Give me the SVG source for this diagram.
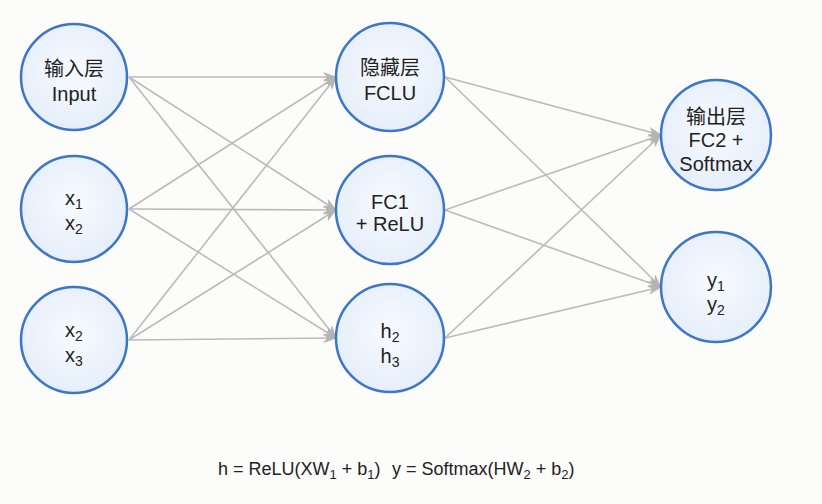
<svg xmlns="http://www.w3.org/2000/svg" width="822" height="504" viewBox="0 0 822 504">
<defs>
<radialGradient id="nodeFill" cx="50%" cy="45%" r="55%">
<stop offset="0%" stop-color="#f8fbff"/>
<stop offset="100%" stop-color="#e5eefa"/>
</radialGradient>
<marker id="arr" markerWidth="14" markerHeight="12" refX="13" refY="5" orient="auto" markerUnits="userSpaceOnUse">
<path d="M0,0 L14,5 L0,10 L4,5 Z" fill="#b4b4b4"/>
</marker>
</defs>
<style>
.node circle { fill: url(#nodeFill); stroke: #3d76c8; stroke-width: 2.5; }
.node text { font-family: "Liberation Sans", "Noto Sans CJK SC", Arial, sans-serif; font-size: 20px; fill: #222; text-anchor: middle; }
.sub { font-size: 14px; }
.conn line { stroke: #bbbbbb; stroke-width: 1.6; marker-end: url(#arr); }
.formula { font-family: "Liberation Sans", Arial, sans-serif; font-size: 18px; fill: #222; }
</style>
<rect x="0" y="0" width="822" height="504" fill="#fcfcfb"/>

<g id="connectors" class="conn">
<line x1="129" y1="77" x2="336" y2="77"/>
<line x1="129" y1="77" x2="336" y2="210"/>
<line x1="129" y1="77" x2="336" y2="338"/>
<line x1="129" y1="209" x2="336" y2="77"/>
<line x1="129" y1="209" x2="336" y2="210"/>
<line x1="129" y1="209" x2="336" y2="338"/>
<line x1="129" y1="340" x2="336" y2="77"/>
<line x1="129" y1="340" x2="336" y2="210"/>
<line x1="129" y1="340" x2="336" y2="338"/>
<line x1="445" y1="77" x2="661" y2="135"/>
<line x1="445" y1="77" x2="661" y2="287"/>
<line x1="445" y1="210" x2="661" y2="135"/>
<line x1="445" y1="210" x2="661" y2="287"/>
<line x1="445" y1="338" x2="661" y2="135"/>
<line x1="445" y1="338" x2="661" y2="287"/>
</g>

<g id="input-layer" class="node">
<circle cx="74" cy="77" r="53"/>
<text x="74" y="76">输入层</text>
<text x="74" y="101">Input</text>
</g>
<g id="input-x1x2" class="node">
<circle cx="74" cy="209" r="53"/>
<text x="74" y="205">x<tspan class="sub" dy="4">1</tspan></text>
<text x="74" y="230">x<tspan class="sub" dy="4">2</tspan></text>
</g>
<g id="input-x2x3" class="node">
<circle cx="74" cy="340" r="53"/>
<text x="74" y="337">x<tspan class="sub" dy="4">2</tspan></text>
<text x="74" y="362">x<tspan class="sub" dy="4">3</tspan></text>
</g>

<g id="hidden-layer" class="node">
<circle cx="390" cy="77" r="54"/>
<text x="390" y="75">隐藏层</text>
<text x="390" y="100">FCLU</text>
</g>
<g id="hidden-fc1" class="node">
<circle cx="390" cy="210" r="54"/>
<text x="390" y="209">FC1</text>
<text x="390" y="231">+ ReLU</text>
</g>
<g id="hidden-h2h3" class="node">
<circle cx="390" cy="338" r="54"/>
<text x="390" y="338">h<tspan class="sub" dy="4">2</tspan></text>
<text x="390" y="363">h<tspan class="sub" dy="4">3</tspan></text>
</g>

<g id="output-layer" class="node">
<circle cx="716" cy="135" r="55"/>
<text x="716" y="124">输出层</text>
<text x="716" y="147">FC2 +</text>
<text x="716" y="171">Softmax</text>
</g>
<g id="output-y1y2" class="node">
<circle cx="716" cy="287" r="55"/>
<text x="716" y="287">y<tspan class="sub" dy="4">1</tspan></text>
<text x="716" y="311">y<tspan class="sub" dy="4">2</tspan></text>
</g>

<g id="formula">
<text class="formula" x="218" y="475">h = ReLU(XW<tspan font-size="13" dy="4">1</tspan><tspan dy="-4"> + b</tspan><tspan font-size="13" dy="4">1</tspan><tspan dy="-4">)</tspan></text>
<text class="formula" x="392" y="475">y = Softmax(HW<tspan font-size="13" dy="4">2</tspan><tspan dy="-4"> + b</tspan><tspan font-size="13" dy="4">2</tspan><tspan dy="-4">)</tspan></text>
</g>
</svg>
